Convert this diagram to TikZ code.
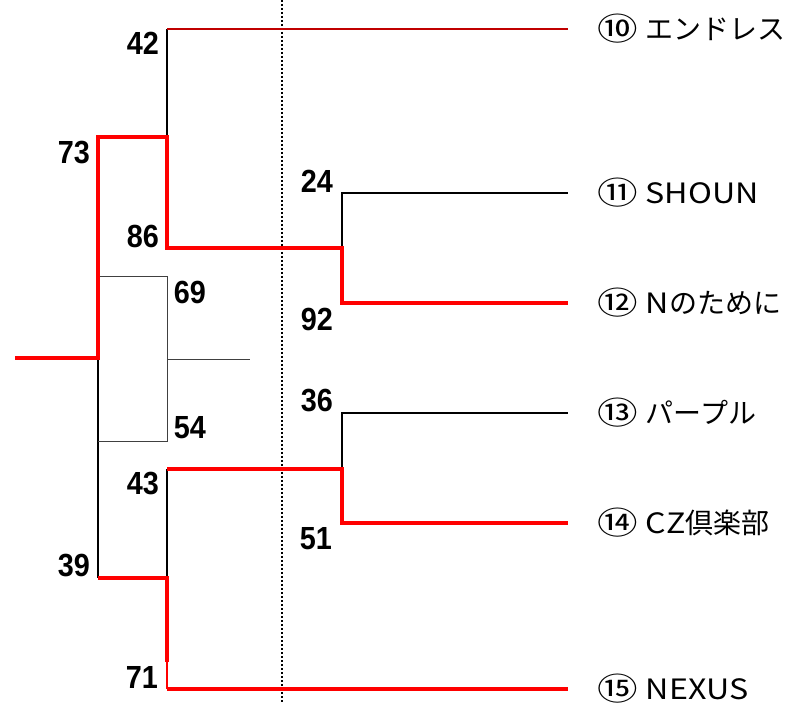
\documentclass[tikz,border=0pt]{standalone}
\usepackage{fontspec}
\setmainfont{Liberation Sans}
\newfontfamily\jp{Noto Sans CJK JP}
\newfontfamily\jplat[FakeStretch=1.15]{Noto Sans CJK JP}
\newfontfamily\scorefont[FakeStretch=0.9]{Liberation Sans}
\newcommand{\circnum}[1]{\raisebox{-1.5pt}{\scalebox{1.45}[1.12]{#1}}\hspace{8pt}}
\definecolor{winred}{HTML}{FF0000}
\definecolor{darkred}{HTML}{C00000}
\begin{document}
\begin{tikzpicture}[x=1pt,y=-1pt,
  thinln/.style={draw=black,line width=1.3pt},
  hairln/.style={draw=black!75,line width=0.9pt},
  winln/.style={draw=winred,line width=4pt},
  winthin/.style={draw=winred,line width=1.6pt},
  topln/.style={draw=darkred,line width=1.8pt},
  score/.style={font=\scorefont\fontsize{32}{33}\selectfont\bfseries,inner sep=0pt},
  team/.style={font=\jp\fontsize{28}{30}\selectfont,anchor=west,inner sep=0pt}]
\useasboundingbox (0,0) rectangle (798,703);
% dotted guide
\coordinate (dT) at (282,0);
\coordinate (dB) at (282,703);
\draw[line width=1.6pt,dash pattern=on 2.4pt off 1.6pt] (dT) -- (dB);
% coordinates
\coordinate (start) at (15,358);
\coordinate (root) at (98,358);
\coordinate (rTop) at (98,137);
\coordinate (rBot) at (98,578);
\coordinate (aTop) at (167,137);
\coordinate (a10) at (167,29);
\coordinate (t10) at (568,29);
\coordinate (aMid) at (167,248);
\coordinate (b1) at (342,248);
\coordinate (b1u) at (342,193);
\coordinate (b1d) at (342,303);
\coordinate (t11) at (568,193);
\coordinate (t12) at (568,303);
\coordinate (q1) at (98,276);
\coordinate (q2) at (167,276);
\coordinate (q3) at (167,441);
\coordinate (q4) at (98,441);
\coordinate (qm) at (167,359);
\coordinate (qe) at (250,359);
\coordinate (cTop) at (167,469);
\coordinate (b2) at (342,469);
\coordinate (b2u) at (342,413);
\coordinate (b2d) at (342,523);
\coordinate (t13) at (568,413);
\coordinate (t14) at (568,523);
\coordinate (cBot) at (167,578);
\coordinate (cLow) at (167,662);
\coordinate (c15) at (167,689);
\coordinate (t15) at (568,689);
% black lines
\draw[thinln] (aTop) -- (a10);
\draw[thinln] (b1) -- (b1u) -- (t11);
\draw[thinln] (b2) -- (b2u) -- (t13);
\draw[thinln] (root) -- (rBot);
\draw[thinln] (cTop) -- (cBot);
\draw[hairln] (q1) -- (q2) -- (q3) -- (q4);
\draw[hairln] (qm) -- (qe);
% red lines
\draw[topln] (a10) -- (t10);
\draw[winln,line join=miter] (start) -- (root) -- (rTop) -- (aTop) -- (aMid) -- (b1) -- (b1d) -- (t12);
\draw[winln,line join=miter] (cTop) -- (b2) -- (b2d) -- (t14);
\draw[winln,line join=miter] (rBot) -- (cBot) -- (cLow);
\draw[winthin] (cLow) -- (c15);
\draw[winln] (c15) -- (t15);
% scores
\node[score] (s42) at (143,43) {42};
\node[score] (s73) at (74,153) {73};
\node[score] (s24) at (317,181) {24};
\node[score] (s86) at (143,236) {86};
\node[score] (s69) at (190,292) {69};
\node[score] (s92) at (317,319) {92};
\node[score] (s36) at (317,401) {36};
\node[score] (s54) at (190,428) {54};
\node[score] (s43) at (143,484) {43};
\node[score] (s51) at (316,539) {51};
\node[score] (s39) at (74,566) {39};
\node[score] (s71) at (142,677) {71};
% teams
\node[team] (n10) at (597,29) {\circnum{⑩}エンドレス};
\node[team] (n11) at (597,193) {\circnum{⑪}{\jplat SHOUN}};
\node[team] (n12) at (597,303) {\circnum{⑫}{\jplat N}のために};
\node[team] (n13) at (597,413) {\circnum{⑬}パープル};
\node[team] (n14) at (597,523) {\circnum{⑭}{\jplat CZ}倶楽部};
\node[team] (n15) at (597,689) {\circnum{⑮}{\jplat NEXUS}};
\end{tikzpicture}
\end{document}
